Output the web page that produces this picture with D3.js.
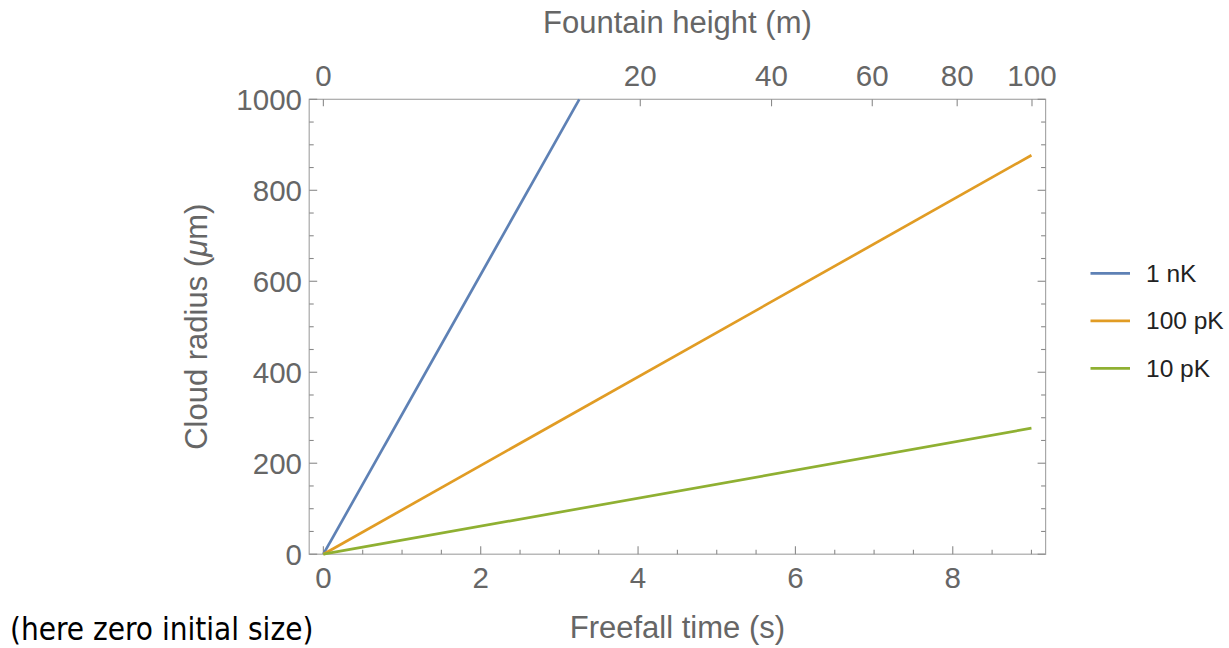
<!DOCTYPE html>
<html>
<head>
<meta charset="utf-8">
<script src="https://cdn.jsdelivr.net/npm/d3@7"></script>
<style>
  html, body { margin: 0; padding: 0; background: #fff; }
  svg { display: block; }
</style>
</head>
<body>
<svg id="chart" width="1229" height="648"></svg>
<script>
// ---- data ----
const seriesNames = ["1 nK", "100 pK", "10 pK"];
const seriesColors = ["#5E81B5", "#E19C24", "#8FB032"];
const times1nK = [0, 3.253];
const radius1nK = [0, 1000];
const times100pK = [0, 9];
const radius100pK = [0, 877];
const times10pK = [0, 9];
const radius10pK = [0, 277];
const xTicksMajor = [0, 2, 4, 6, 8];
const xTicksMinor = [0.5, 1, 1.5, 2.5, 3, 3.5, 4.5, 5, 5.5, 6.5, 7, 7.5, 8.5, 9];
const yTicksMajor = [0, 200, 400, 600, 800, 1000];
const yTicksMinor = [50, 100, 150, 250, 300, 350, 450, 500, 550, 650, 700, 750, 850, 900, 950];
const heightTicks = [0, 20, 40, 60, 80, 100];
const heightMaxTime = 9.007; // freefall time (s) corresponding to 100 m

(function () {
const svg = d3.select("#chart");
const pL = 309.2, pR = 1045.6, pT = 99.3, pB = 554.2;
const x = d3.scaleLinear().domain([-0.18, 9.18]).range([pL, pR]);
const y = d3.scaleLinear().domain([0, 1000]).range([pB, pT]);
const hx = d3.scaleSqrt().domain([0, 100]).range([x(0), x(heightMaxTime)]);

const labelFont = "'Liberation Sans', Arial, sans-serif";
const grey = "#666666";
const tickCol = "#8a8a8a";

// frame
svg.append("rect").attr("x", pL).attr("y", pT)
  .attr("width", pR - pL).attr("height", pB - pT)
  .attr("fill", "none").attr("stroke", "#a8a8a8").attr("stroke-width", 1.2);

const ticks = svg.append("g").attr("stroke", tickCol).attr("stroke-width", 1.1);
const maj = 8, mnr = 4.5;
xTicksMajor.forEach(t => ticks.append("line").attr("x1", x(t)).attr("x2", x(t)).attr("y1", pB).attr("y2", pB - maj));
xTicksMinor.forEach(t => ticks.append("line").attr("x1", x(t)).attr("x2", x(t)).attr("y1", pB).attr("y2", pB - mnr));
heightTicks.forEach(h => ticks.append("line").attr("x1", hx(h)).attr("x2", hx(h)).attr("y1", pT).attr("y2", pT + 7));
yTicksMajor.forEach(v => {
  ticks.append("line").attr("x1", pL).attr("x2", pL + maj).attr("y1", y(v)).attr("y2", y(v));
  ticks.append("line").attr("x1", pR).attr("x2", pR - maj).attr("y1", y(v)).attr("y2", y(v));
});
yTicksMinor.forEach(v => {
  ticks.append("line").attr("x1", pL).attr("x2", pL + mnr).attr("y1", y(v)).attr("y2", y(v));
  ticks.append("line").attr("x1", pR).attr("x2", pR - mnr).attr("y1", y(v)).attr("y2", y(v));
});

// tick labels
const tl = svg.append("g").attr("font-family", labelFont).attr("font-size", 29.5).attr("fill", grey);
xTicksMajor.forEach(t => tl.append("text").attr("x", x(t)).attr("y", 588).attr("text-anchor", "middle").text(t));
heightTicks.forEach(h => tl.append("text").attr("x", hx(h)).attr("y", 86).attr("text-anchor", "middle").text(h));
yTicksMajor.forEach(v => tl.append("text").attr("x", 302).attr("y", y(v)).attr("dy", "0.36em").attr("text-anchor", "end").text(v));

// axis titles
const tt = svg.append("g").attr("font-family", labelFont).attr("font-size", 31).attr("fill", grey);
tt.append("text").attr("x", (pL + pR) / 2).attr("y", 638).attr("text-anchor", "middle").text("Freefall time (s)");
tt.append("text").attr("x", (pL + pR) / 2).attr("y", 33).attr("text-anchor", "middle").text("Fountain height (m)");
const yt = tt.append("text").attr("transform", `translate(207,${(pT + pB) / 2}) rotate(-90)`).attr("text-anchor", "middle");
yt.append("tspan").text("Cloud radius (");
yt.append("tspan").attr("font-style", "italic").text("μ");
yt.append("tspan").text("m)");

// lines
const seriesData = [
  d3.zip(times1nK, radius1nK),
  d3.zip(times100pK, radius100pK),
  d3.zip(times10pK, radius10pK)
];
const line = d3.line().x(d => x(d[0])).y(d => y(d[1]));
svg.append("g").selectAll("path").data(seriesData).join("path")
  .attr("d", line).attr("fill", "none")
  .attr("stroke", (d, i) => seriesColors[i]).attr("stroke-width", 2.7);

// legend
const lg = svg.append("g");
seriesNames.forEach((n, i) => {
  const ly = 273.3 + i * 47.5;
  lg.append("line").attr("x1", 1090.5).attr("x2", 1130).attr("y1", ly).attr("y2", ly)
    .attr("stroke", seriesColors[i]).attr("stroke-width", 2.7);
  lg.append("text").attr("x", 1146).attr("y", ly + 8.5).attr("font-family", labelFont)
    .attr("font-size", 24.5).attr("fill", "#222").text(n);
});

// footnote
svg.append("text").attr("x", 10).attr("y", 640)
  .attr("font-family", "'DejaVu Sans Condensed', 'DejaVu Sans', sans-serif")
  .attr("font-size", 31.2).attr("fill", "#000").text("(here zero initial size)");
})();
</script>
</body>
</html>
